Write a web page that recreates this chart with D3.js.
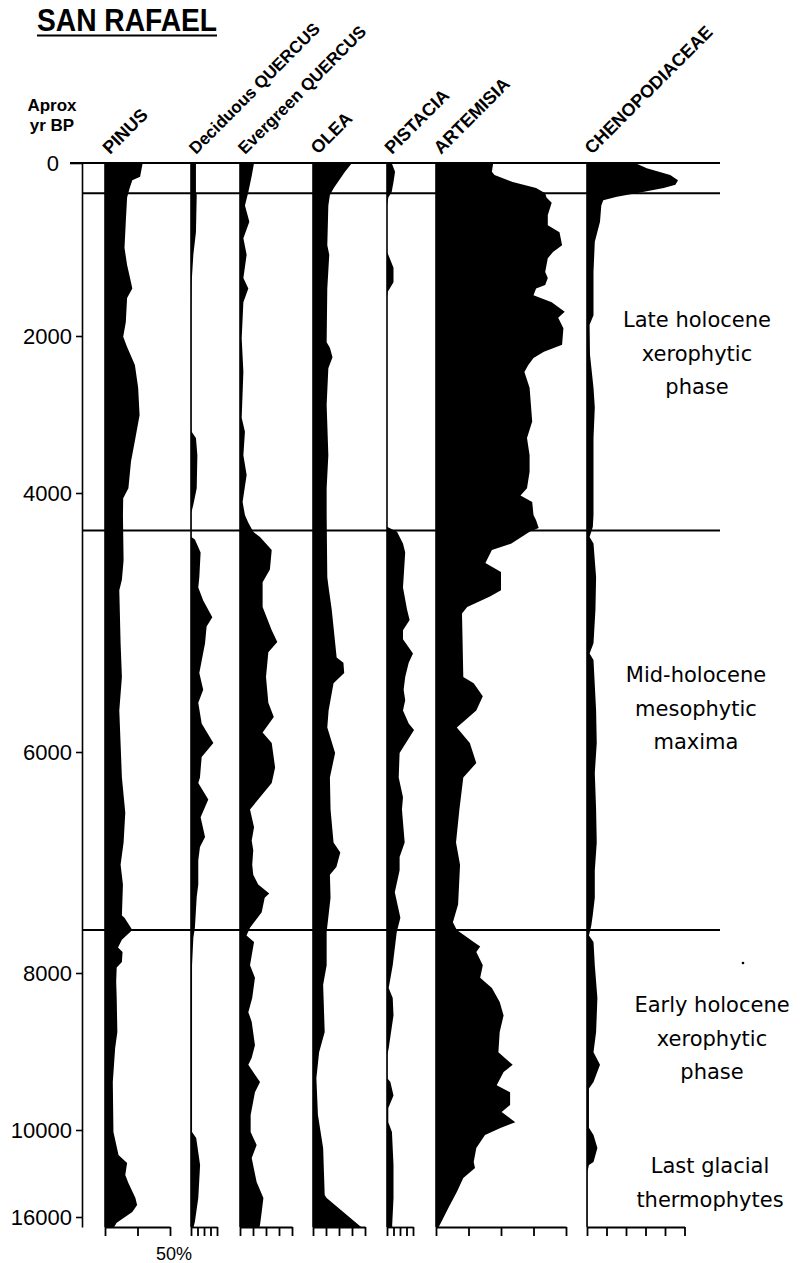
<!DOCTYPE html>
<meta charset="utf-8">
<script src="https://d3js.org/d3.v7.min.js"></script>
<style>
  body { margin: 0; background: #fff; }
  svg { display: block; }
</style>
<div id="chart"></div>
<script>

// age model (yr BP) and zone boundaries
var ageTicks = [0, 2000, 4000, 6000, 8000, 10000, 16000];
var ageMax = 16700;
var zoneAges = [350, 4290, 7610];

var taxa = ["PINUS", "Deciduous QUERCUS", "Evergreen QUERCUS", "OLEA", "PISTACIA", "ARTEMISIA", "CHENOPODIACEAE"];
var axisMax = [50, 20, 40, 40, 20, 100, 75];   // % at end of each bottom axis
var tickStep = [25, 5, 10, 10, 5, 25, 15];

// [age yr BP, %]
var pinus = [[0,29],[160,27],[200,21],[290,19],[400,17],[680,16],[980,15],[1180,17],[1380,20],[1450,21],[1560,17],[1840,16],[2010,14],[2140,17],[2370,23],[2660,25.5],[3010,26.6],[3300,23.4],[3600,20],[3940,18],[4040,14],[4170,13.8],[4520,14.3],[4670,13],[4750,11],[5160,12],[5420,13],[5680,11],[6230,13],[6550,15.6],[6820,14.3],[7020,12],[7200,13.8],[7480,13],[7500,15],[7610,21],[7700,13],[7770,10],[7810,13.5],[7900,13],[7950,9],[8110,8.6],[8320,9],[8750,9.5],[8960,7.8],[9390,6],[10140,6.5],[11720,10.4],[12280,17],[13100,15.6],[13660,18],[14690,23.4],[15170,24.7],[15660,21],[16410,9],[16700,7]];

var decQuercus = [[0,3.8],[335,3.8],[370,4.4],[800,3.8],[1060,1.8],[1380,0.5],[1640,0.3],[3170,0.3],[3220,0.5],[3300,3.8],[3520,4.9],[3940,4.4],[4090,1.8],[4150,0.3],[4340,0.3],[4360,3],[4460,7.4],[4650,6.4],[4730,5.6],[4830,9.4],[4960,16.4],[5030,12],[5160,10.8],[5390,6.4],[5520,9.4],[5620,5.6],[5780,8.2],[5930,17.2],[6045,8.2],[6230,6.9],[6280,5.6],[6430,13.3],[6590,7.4],[6770,10.8],[6860,6.9],[6980,5.6],[7200,5.6],[7310,4.4],[7590,3],[7680,1.8],[7930,0.8],[10140,0.8],[10550,4],[12410,7],[14690,5.6],[16340,3],[16700,2]];

var evQuercus = [[0,10.8],[150,9],[335,6.4],[490,3.8],[680,7.2],[870,2.6],[1060,5.1],[1330,2.6],[1450,6.4],[1610,2.6],[2030,1.3],[2460,2.6],[3040,1.3],[3220,3.8],[3520,2.6],[3770,5.1],[4070,2],[4170,3.8],[4230,6.4],[4300,10.2],[4340,15.4],[4440,24.4],[4590,23],[4690,17.4],[4880,17.4],[5060,24.4],[5150,28.7],[5230,21.8],[5420,20],[5620,21.8],[5730,26],[5850,17.4],[5930,24.4],[6140,27],[6280,24.4],[6520,7.7],[6680,10.8],[6800,9],[6890,10.2],[7020,9.4],[7110,10.2],[7200,14],[7280,22.5],[7320,19],[7450,16.7],[7590,7.7],[7660,5],[7720,10.8],[7930,7.7],[8060,11.5],[8320,9.4],[8500,6.4],[8620,9],[8920,11.5],[9080,9],[9170,6.4],[9390,15.4],[9520,11.5],[9810,8.2],[10140,8.2],[11040,12.8],[11930,9],[13590,12.8],[14690,18],[15660,16.7],[16550,15.4],[16700,15]];

var olea = [[0,30],[100,24.6],[290,16],[370,13],[490,11.8],[950,11],[1060,12.5],[1450,11],[2080,10.5],[2150,13],[2270,15],[2410,11.8],[2880,10.5],[3520,11.8],[3940,10.5],[4170,10.5],[4650,11],[4730,12],[4900,14.4],[5270,18.2],[5310,23.4],[5390,24],[5470,15.8],[5680,12],[5810,11],[6010,17],[6230,13],[6520,13.5],[6820,15.8],[6910,21],[7040,18],[7110,13],[7320,13.5],[7630,10.5],[7930,10.5],[8150,7.8],[8750,9],[9010,4.7],[9340,2.6],[9810,3.8],[11240,7.8],[14480,9],[14690,10.5],[16700,37]];

var pistacia = [[0,3.6],[100,6.2],[220,5],[335,3.6],[400,1],[490,0],[1030,0],[1060,1],[1210,5],[1380,5],[1490,0.5],[1560,0],[4260,0],[4300,7.7],[4390,12.3],[4460,14],[4730,12.3],[4900,15.4],[4980,17.4],[5060,12.3],[5130,12.3],[5240,20],[5310,16.7],[5420,14],[5520,12.8],[5600,14],[5680,12.3],[5780,16.7],[5830,20.8],[6010,9.7],[6230,9],[6410,12.3],[6520,11.5],[6820,13.6],[6950,9.7],[7070,9.7],[7270,6],[7500,10.3],[7630,7.5],[7930,4.4],[8190,1.3],[8320,4.4],[8540,5],[8960,1.3],[9040,0.3],[9340,0.3],[9390,2.6],[9560,5],[9720,1],[9900,1],[10140,3.8],[12410,5],[14690,5],[16550,4],[16700,4]];

var artemisia = [[0,44],[100,43],[140,45],[220,59],[290,77],[350,84],[400,85],[460,89],[600,86],[720,86],[800,95],[950,97],[1030,90],[1100,86],[1260,84],[1330,86],[1410,84],[1450,77],[1530,75],[1610,89],[1720,99],[1790,94],[1910,98],[2110,97],[2200,83],[2280,75],[2370,71],[2460,68],[2660,72],[3090,74],[3300,70],[3520,72],[3730,72],[3940,70],[4020,65],[4070,74],[4170,75],[4210,77],[4270,79],[4300,72],[4390,58],[4440,43],[4540,38],[4610,50],[4750,50],[4800,41.5],[4880,24],[4930,20],[5420,21],[5470,29],[5570,36],[5680,31],[5810,16],[5930,26],[6100,31],[6230,21],[6520,18],[6820,15.4],[7020,18.5],[7380,17],[7540,13],[7610,16],[7720,29],[7760,34],[7810,31],[7930,36],[8060,34],[8190,43],[8370,49],[8540,52],[8750,49],[9010,48],[9170,59],[9260,52],[9430,46.7],[9520,57],[9680,57],[9770,50.5],[9900,61],[9970,50],[10340,37.7],[11240,31],[12210,29],[12620,30],[13310,21],[14280,16],[15380,9.5],[16550,3],[16700,2]];

var cheno = [[0,37],[60,46],[140,64],[200,70],[250,68],[290,59],[335,43],[390,23],[430,12.5],[490,11],[680,10],[910,6],[1260,5],[1760,5],[1870,2],[2240,2.3],[2660,5],[2910,6],[3300,5],[4170,5],[4260,4.5],[4340,2],[4390,5],[4650,7],[4900,6.5],[5160,5],[5240,2],[5290,5],[5680,7],[5930,7.5],[6190,6],[6520,7],[6820,7.5],[7070,6],[7320,6],[7480,4.4],[7570,3.3],[7660,1.5],[7720,5],[7930,6],[8320,8],[8750,7],[9010,5],[9170,10],[9390,5],[9470,1.5],[9970,1.5],[10340,5],[11240,8],[12210,5],[12410,1.5],[12900,0.3],[16700,0.3]];

var series = [pinus, decQuercus, evQuercus, olea, pistacia, artemisia, cheno];

var zoneText = [
  ["Late holocene", "xerophytic", "phase"],
  ["Mid-holocene", "mesophytic", "maxima"],
  ["Early holocene", "xerophytic", "phase"],
  ["Last glacial", "thermophytes"]
];

// layout
var colX = [105, 191, 240, 313, 387, 436, 587];
var pxPerPct = 1.3;
var axisX = 82, lineEnd = 720;
var zoneLabelPos = [[697, 327], [696, 682], [712, 1012], [710, 1173]];

var svg = d3.select("#chart").append("svg")
    .attr("width", 801)
    .attr("height", 1263);

// age axis (non-linear depth/age model)
var y = d3.scaleLinear()
    .domain([0, 2000, 4000, 6000, 8000, 10000, 16000, ageMax])
    .range([163, 336, 493, 752, 973, 1130, 1217, 1227]);

// title
svg.append("text")
    .attr("x", 37).attr("y", 31)
    .attr("font-family", "Liberation Sans, Arial, sans-serif")
    .attr("font-weight", "bold")
    .attr("font-size", 32)
    .attr("textLength", 180)
    .attr("lengthAdjust", "spacingAndGlyphs")
    .text("SAN RAFAEL");
svg.append("line")
    .attr("x1", 37).attr("x2", 217)
    .attr("y1", 35.5).attr("y2", 35.5)
    .attr("stroke", "#000").attr("stroke-width", 2.2);

svg.append("text")
    .attr("text-anchor", "middle")
    .attr("font-family", "Liberation Sans, Arial, sans-serif")
    .attr("font-weight", "bold")
    .attr("font-size", 17)
    .selectAll("tspan")
    .data(["Aprox", "yr BP"])
    .enter().append("tspan")
      .attr("x", 52)
      .attr("y", function(d, i) { return 111 + i * 20; })
      .text(function(d) { return d; });

// left axis
var yAxis = svg.append("g")
    .attr("transform", "translate(" + axisX + ",0)")
    .call(d3.axisLeft(y).tickValues(ageTicks).tickSize(6).tickSizeOuter(0).tickPadding(4).tickFormat(d3.format("d")));
yAxis.attr("font-size", 22).attr("font-family", "Liberation Sans, Arial, sans-serif");
yAxis.selectAll("path, line").attr("stroke", "#000").attr("stroke-width", 1.6);
yAxis.selectAll(".tick").filter(function(d) { return d === 0; }).each(function() {
  d3.select(this).select("line").attr("x2", -12);
  d3.select(this).select("text").attr("x", -23);
});

// taxon columns
series.forEach(function(data, i) {
  var x = d3.scaleLinear()
      .domain([0, axisMax[i]])
      .range([colX[i], colX[i] + axisMax[i] * pxPerPct]);

  var area = d3.area()
      .x0(x(0))
      .x1(function(d) { return x(d[1]); })
      .y(function(d) { return y(d[0]); });

  svg.append("path")
      .datum(data)
      .attr("d", area)
      .attr("fill", "#000");

  svg.append("line")
      .attr("x1", x(0)).attr("x2", x(0))
      .attr("y1", y(0)).attr("y2", y(ageMax))
      .attr("stroke", "#000").attr("stroke-width", 1.6);

  var xAxis = svg.append("g")
      .attr("transform", "translate(0," + y(ageMax) + ")")
      .call(d3.axisBottom(x)
        .tickValues(d3.range(0, axisMax[i] + 0.01, tickStep[i]))
        .tickSize(9).tickSizeOuter(0).tickFormat(""));
  xAxis.selectAll("path, line").attr("stroke", "#000").attr("stroke-width", 1.8);

  svg.append("text")
      .attr("transform", "translate(" + (x(0) + 5) + ",155) rotate(-45)")
      .attr("font-family", "Liberation Sans, Arial, sans-serif")
      .attr("font-weight", "bold")
      .attr("font-size", /[a-z]/.test(taxa[i]) ? 17 : 18)
      .text(taxa[i]);

  if (i === 0) {
    svg.append("text")
        .attr("x", x(50) + 4).attr("y", 1260)
        .attr("text-anchor", "middle")
        .attr("font-family", "Liberation Sans, Arial, sans-serif")
        .attr("font-size", 18)
        .text("50%");
  }
});

// zone boundaries
svg.append("line")
    .attr("x1", 70).attr("x2", lineEnd)
    .attr("y1", y(0)).attr("y2", y(0))
    .attr("stroke", "#000").attr("stroke-width", 2);
svg.selectAll(".zone")
    .data(zoneAges)
    .enter().append("line")
      .attr("class", "zone")
      .attr("x1", axisX).attr("x2", lineEnd)
      .attr("y1", function(d) { return y(d); })
      .attr("y2", function(d) { return y(d); })
      .attr("stroke", "#000").attr("stroke-width", 2);

// zone descriptions
zoneText.forEach(function(lines, i) {
  svg.append("text")
      .attr("text-anchor", "middle")
      .attr("font-family", "Comic Sans MS, DejaVu Sans, sans-serif")
      .attr("font-size", 21)
      .selectAll("tspan")
      .data(lines)
      .enter().append("tspan")
        .attr("x", zoneLabelPos[i][0])
        .attr("y", function(d, j) { return zoneLabelPos[i][1] + j * 33.5; })
        .text(function(d) { return d; });
});

svg.append("circle").attr("cx", 743).attr("cy", 963).attr("r", 1.3).attr("fill", "#000");

</script>
